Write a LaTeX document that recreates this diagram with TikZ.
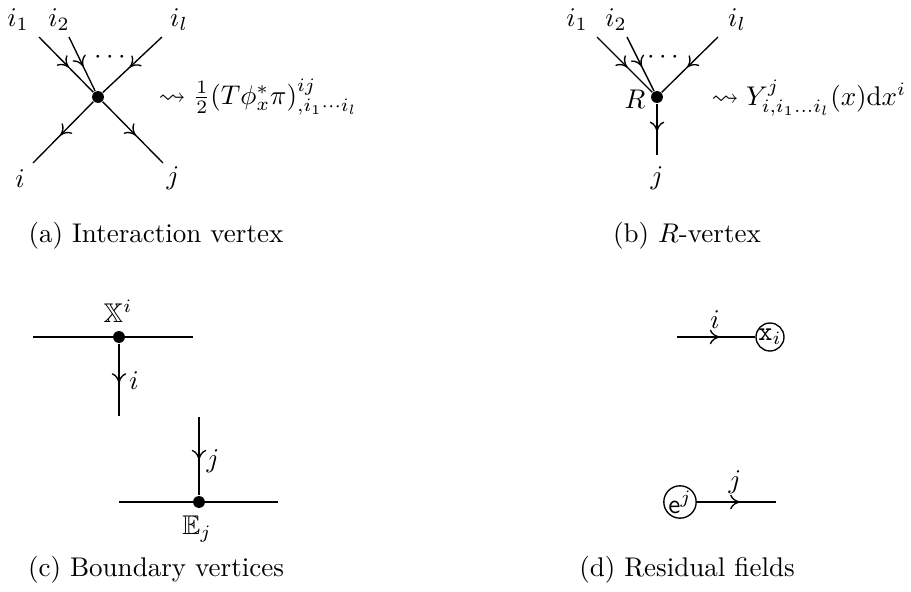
\documentclass[tikz,border=0pt]{standalone}
\usepackage{amssymb}
\usetikzlibrary{arrows.meta,decorations.markings}
\begin{document}
\begin{tikzpicture}[x=0.37pt,y=-0.37pt,
  line width=0.5pt,
  dot/.style={circle,fill,inner sep=0pt,minimum size=4.4pt},
  lab/.style={inner sep=0pt},
  field/.style={circle,draw,inner sep=0pt},
  captxt/.style={anchor=base,inner sep=0pt},
  midarrow/.style={postaction={decorate},decoration={markings,mark=at position #1 with {\arrow{Computer Modern Rightarrow[length=3.8pt,width=5.4pt]}}}},
  midarrow/.default=0.55]
\useasboundingbox (0,0) rectangle (911,592);
% (a)
\node[dot] (A) at (98,97) {};
\coordinate (A1) at (39,37);
\coordinate (A2) at (69,37);
\coordinate (Al) at (162,37);
\coordinate (Ai) at (33,163);
\coordinate (Aj) at (163,163);
\draw[midarrow] (A1) -- (A);
\draw[midarrow] (A2) -- (A);
\draw[midarrow] (Al) -- (A);
\draw[midarrow] (A) -- (Ai);
\draw[midarrow] (A) -- (Aj);
\node[lab] (LAi1) at (18,20) {$i_1$};
\node[lab] (LAi2) at (59,20) {$i_2$};
\node[lab] (LAil) at (179,20) {$i_l$};
\node[lab] (LAi) at (20,179) {$i$};
\node[lab] (LAj) at (173,178) {$j$};
\node[lab] (LAd) at (110,57) {$\cdots$};
\node[lab,anchor=base west] (EA) at (158,104) {$\rightsquigarrow \frac{1}{2}(T\phi_x^*\pi)^{ij}_{,i_1\cdots i_l}$};
\node[captxt] (CA) at (156,242) {(a) Interaction vertex};
% (b)
\node[dot] (B) at (657,97) {};
\coordinate (B1) at (597,37);
\coordinate (B2) at (627,37);
\coordinate (Bl) at (718,37);
\coordinate (Bj) at (657,155);
\draw[midarrow] (B1) -- (B);
\draw[midarrow] (B2) -- (B);
\draw[midarrow] (Bl) -- (B);
\draw[midarrow] (B) -- (Bj);
\node[lab] (LBi1) at (577,20) {$i_1$};
\node[lab] (LBi2) at (616,20) {$i_2$};
\node[lab] (LBil) at (737,20) {$i_l$};
\node[lab] (LBj) at (657,178) {$j$};
\node[lab] (LBR) at (635,99) {$R$};
\node[lab] (LBd) at (663,57) {$\cdots$};
\node[lab,anchor=base west] (EB) at (711,105) {$\rightsquigarrow Y^j_{i,i_1\ldots i_l}(x)\mathrm{d}x^i$};
\node[captxt] (CB) at (687,242) {(b) $R$-vertex};
% (c)
\node[dot] (C1) at (119,337) {};
\coordinate (C1l) at (33,337);
\coordinate (C1r) at (193,337);
\coordinate (C1d) at (119,416);
\draw (C1l) -- (C1r);
\draw[midarrow] (C1) -- (C1d);
\node[lab] (LCi) at (134,381) {$i$};
\node[lab] (LCX) at (118,311) {$\mathbb{X}^i$};
\node[dot] (C2) at (199,502) {};
\coordinate (C2u) at (199,417);
\coordinate (C2l) at (119,502);
\coordinate (C2r) at (278,502);
\draw (C2l) -- (C2r);
\draw[midarrow] (C2u) -- (C2);
\node[lab] (LCj) at (213,461) {$j$};
\node[lab] (LCE) at (197,529) {$\mathbb{E}_j$};
\node[captxt] (CC) at (156,576) {(c) Boundary vertices};
% (d)
\node[field] (D1) at (770,337) {$\mathtt{x}_i$};
\coordinate (D1s) at (677,337);
\draw[midarrow] (D1s) -- (D1);
\node[lab] (LDi) at (715,320) {$i$};
\node[field] (D2) at (680,502) {$\mathsf{e}^j$};
\coordinate (D2e) at (776,502);
\draw[midarrow] (D2) -- (D2e);
\node[lab] (LDj) at (735,482) {$j$};
\node[captxt] (CD) at (687,576) {(d) Residual fields};
\end{tikzpicture}
\end{document}
